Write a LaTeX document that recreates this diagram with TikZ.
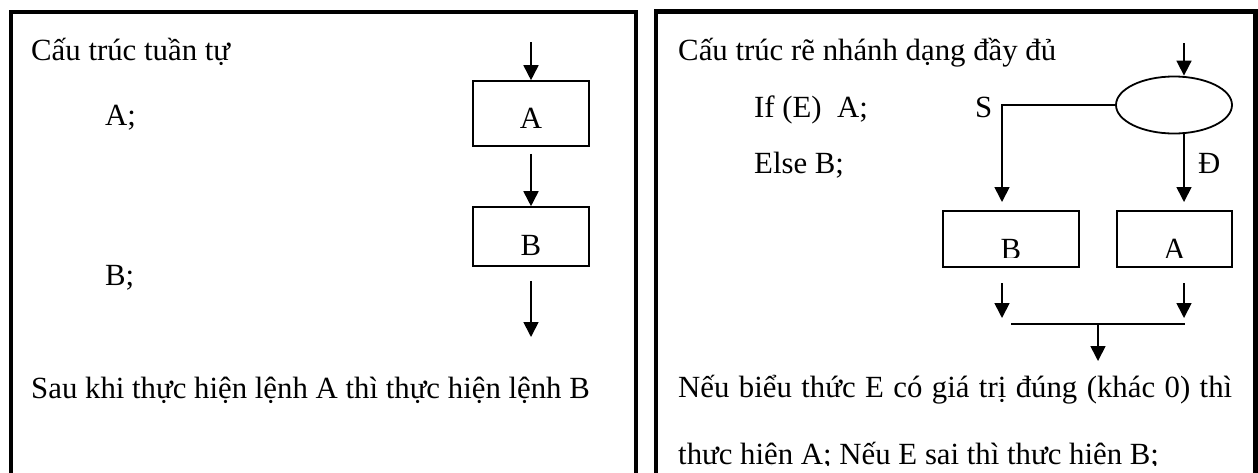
\documentclass[tikz,border=0pt]{standalone}
\usepackage{fontspec}
\setmainfont{Liberation Serif}
\usetikzlibrary{arrows.meta,shapes.geometric,calc}
\begin{document}
\begin{tikzpicture}[x=1pt,y=-1pt,
  font=\fontsize{30.8}{36}\selectfont,
  frame/.style={line width=4.5pt, line join=miter},
  box/.style={draw, line width=1.6pt, inner sep=0pt},
  arr/.style={line width=1.7pt, -{Triangle[length=15pt,width=15pt]}},
  ln/.style={line width=1.7pt},
  txt/.style={inner sep=0pt, anchor=base west},
  lbl/.style={inner sep=0pt, anchor=base}]
\useasboundingbox (0,0) rectangle (1258,472);
% panel frames
\draw[frame] (11,480) -- (11,12) -- (636,12) -- (636,480);
\draw[frame] (656,480) -- (656,11.5) -- (1255.5,11.5) -- (1255.5,480);

% ---------- left panel ----------
\node[txt] (t1) at (31,60) {Cấu trúc tuần tự};
\node[txt] (sa) at (105,125) {A;};
\node[txt] (sb) at (105,285) {B;};
\node[txt] (s1) at (31,398) {Sau khi thực hiện lệnh A thì thực hiện lệnh B};
\node[box, minimum width=116pt, minimum height=65pt] (lA) at (531,113.5) {};
\node[box, minimum width=116pt, minimum height=59pt] (lB) at (531,236.5) {};
\node[lbl] (lAt) at (531,128) {A};
\node[lbl] (lBt) at (531,255) {B};
\coordinate (lin) at (531,42);
\coordinate (lout) at (531,337);
\draw[arr] (lin) -- (lA.north);
\draw[arr] ($(lA.south)+(0,7)$) -- (lB.north);
\draw[arr] ($(lB.south)+(0,14)$) -- (lout);

% ---------- right panel ----------
\node[txt] (t2) at (678,60) {Cấu trúc rẽ nhánh dạng đầy đủ};
\node[txt] (ifl) at (754,117) {If (E)\ \ A;};
\node[txt] (ell) at (754,173) {Else B;};
\node[txt] (S) at (975,117) {S};
\node[txt] (D) at (1198,173) {Đ};
\node[draw, ellipse, line width=1.8pt, minimum width=116pt, minimum height=57pt, inner sep=0pt] (E) at (1174,105) {};
\node[box, minimum width=136pt, minimum height=56pt] (rB) at (1011,239) {};
\node[box, minimum width=115pt, minimum height=56pt] (rA) at (1174.5,239) {};
\begin{scope}
  \clip (900,200) rectangle (1250,257.5);
  \node[lbl] (rBt) at (1011,259.5) {B};
  \node[lbl] (rAt) at (1174.5,259.5) {A};
\end{scope}
\coordinate (rin) at (1184,43);
\coordinate (sT) at (1002,202);
\coordinate (dT) at (1184,202);
\draw[arr] (rin) -- (rin |- E.north);
\draw[arr] (E.west) -| (sT);
\draw[arr] (rin |- E.south) -- (dT);
% merge
\coordinate (b1) at (1002,283);
\coordinate (b1e) at (1002,318);
\coordinate (a1) at (1184,283);
\coordinate (a1e) at (1184,318);
\draw[arr] (b1) -- (b1e);
\draw[arr] (a1) -- (a1e);
\coordinate (mL) at (1011,324);
\coordinate (mR) at (1185,324);
\coordinate (mD) at (1098,361);
\draw[ln] (mL) -- (mR);
\draw[arr] (mL -| mD) -- (mD);

% bottom text
\node[txt] (n1) at (678,397) {\makebox[554pt][s]{Nếu biểu thức E có giá trị đúng (khác 0) thì}};
\begin{scope}
  \clip (660,420) rectangle (1250,465);
  \node[txt] (n2) at (678,464) {thực hiện A; Nếu E sai thì thực hiện B;};
\end{scope}
\end{tikzpicture}
\end{document}
